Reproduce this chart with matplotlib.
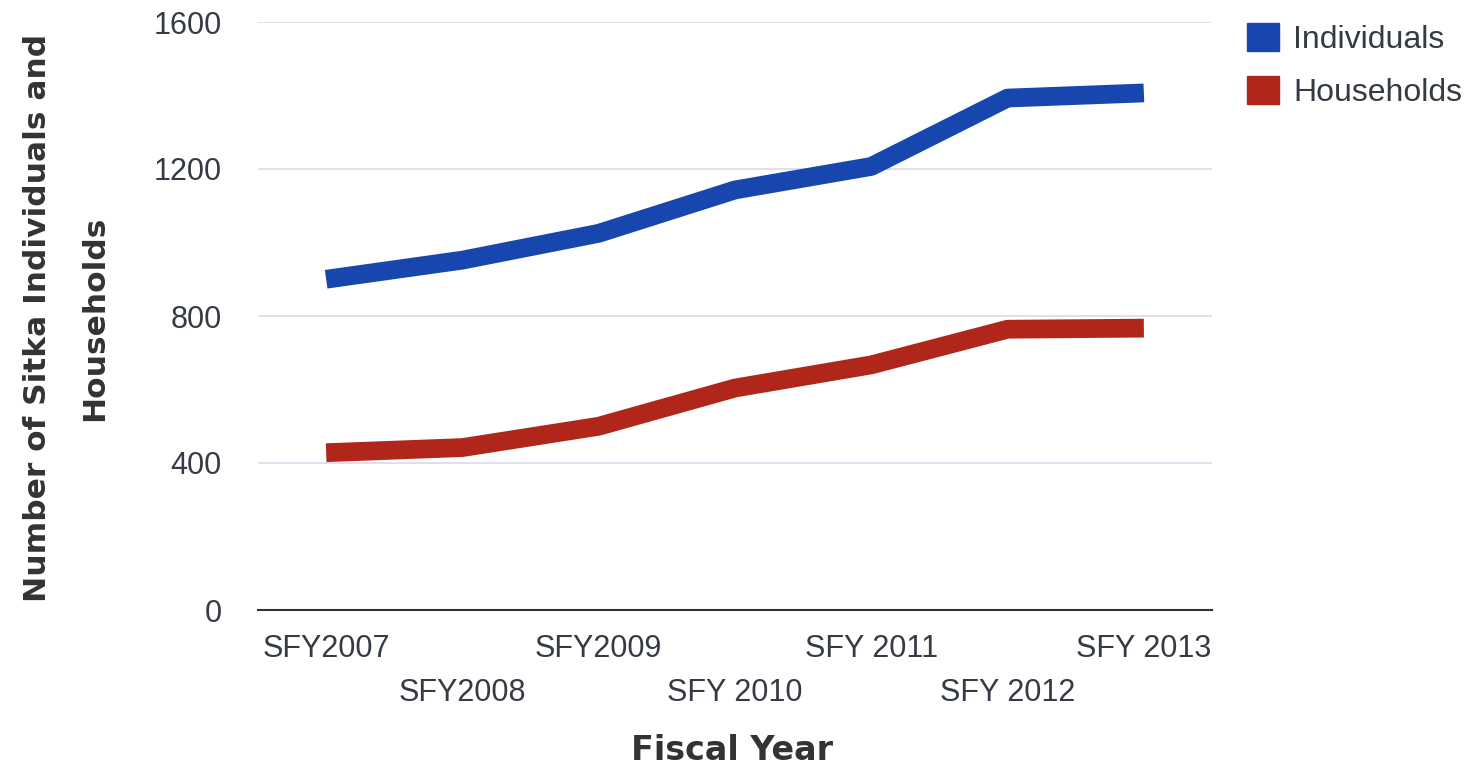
import matplotlib
matplotlib.use("Agg")
import matplotlib.pyplot as plt
from matplotlib.patches import Patch

categories = ["SFY2007", "SFY2008", "SFY2009", "SFY 2010", "SFY 2011", "SFY 2012", "SFY 2013"]
individuals = [900, 952, 1025, 1143, 1207, 1393, 1407]
households = [428, 442, 500, 604, 667, 764, 767]
y_ticks = [0, 400, 800, 1200, 1600]

blue = "#1747ae"
red = "#b1261b"
txt = "#353a45"

fig = plt.figure(figsize=(14.69, 7.66), dpi=100)
ax = fig.add_axes([258/1469, 1-610/766, (1212-258)/1469, (610-22)/766])

x = list(range(len(categories)))
ax.plot(x, individuals, color=blue, lw=13.5, solid_capstyle="butt", solid_joinstyle="round")
ax.plot(x, households, color=red, lw=13.5, solid_capstyle="butt", solid_joinstyle="round")

ax.set_xlim(-0.5, len(categories) - 0.5)
ax.set_ylim(0, 1600)
ax.set_yticks(y_ticks)
ax.set_yticklabels([str(v) for v in y_ticks], fontsize=22, color=txt, family="Liberation Sans")
ax.tick_params(axis="y", length=0, pad=26)
ax.set_xticks([])
ax.grid(axis="y", color="#d9d9ea", lw=1.2)
ax.set_axisbelow(True)
for s in ["top", "right", "left"]:
    ax.spines[s].set_visible(False)
ax.spines["bottom"].set_color("#333333")
ax.spines["bottom"].set_linewidth(1.5)

for i, lab in enumerate(categories):
    dy = -0.04 if i % 2 == 0 else -0.115
    ax.text(i, dy, lab, transform=ax.get_xaxis_transform(), ha="center", va="top",
            fontsize=22, color=txt, family="Liberation Sans")

fig.text(732/1469, 1-750/766, "Fiscal Year", ha="center", va="center",
         fontsize=24, fontweight="bold", color="#333333", family="DejaVu Sans")
fig.text(66/1469, 1-318/766, "Number of Sitka Individuals and\nHouseholds", ha="center", va="center",
         rotation=90, fontsize=22.5, fontweight="bold", color="#333333", family="DejaVu Sans",
         linespacing=2.2)

handles = [Patch(color=blue, label="Individuals"), Patch(color=red, label="Households")]
leg = fig.legend(handles=handles, loc="upper left", bbox_to_anchor=(1218/1469, 1+6/766),
                 frameon=False, handlelength=1.0, handleheight=1.0,
                 handletextpad=0.45, labelspacing=0.65,
                 prop={"family": "Liberation Sans", "size": 23})
for t in leg.get_texts():
    t.set_color(txt)

fig.savefig("out.png", dpi=100, facecolor="white")
